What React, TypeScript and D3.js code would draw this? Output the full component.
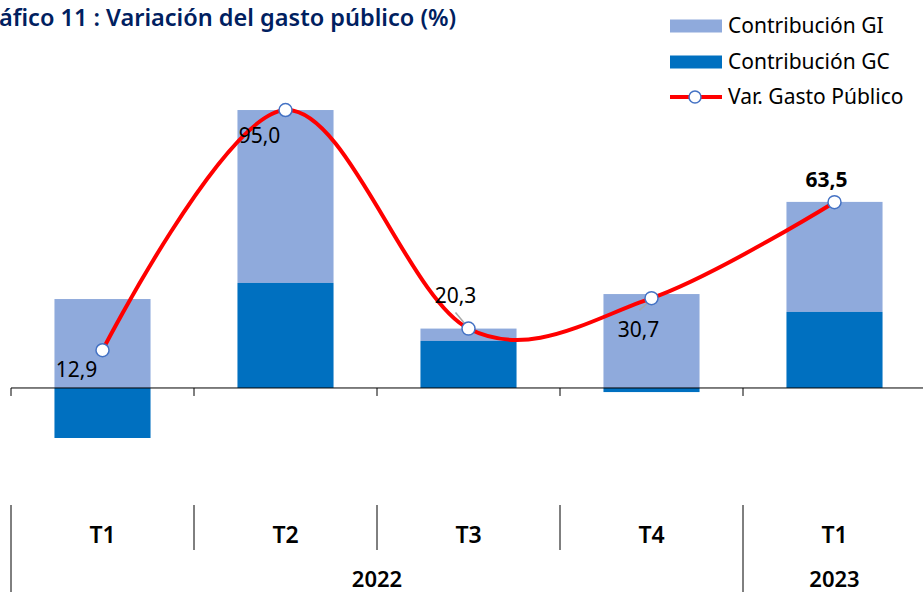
import * as d3 from 'd3';
import { useEffect, useRef } from 'react';

const quarters = ['T1', 'T2', 'T3', 'T4', 'T1'];
const quarterYears = ['2022', '2022', '2022', '2022', '2023'];
const years = ['2022', '2023'];
const contribGC = [-17.1, 35.9, 16.1, -1.4, 26.0];
const contribGI = [30.4, 59.1, 4.2, 32.1, 37.6];
const varGasto = [12.9, 95.0, 20.3, 30.7, 63.5];
const varLabels = ['12,9', '95,0', '20,3', '30,7', '63,5'];

export default function App() {
    const ref = useRef<HTMLDivElement>(null);

    useEffect(() => {
        const width = 923;
        const height = 592;
        const font = 'Noto Sans';
        const giColor = '#8FAADC';
        const gcColor = '#0070C0';
        const lineColor = '#FF0000';
        const markerStroke = '#4472C4';

        const keys = quarters.map((q, i) => quarterYears[i] + '-' + q);

        const svg = d3
            .create('svg')
            .attr('width', width)
            .attr('height', height)
            .style('position', 'absolute')
            .style('left', '0px')
            .style('top', '0px')
            .style('font-family', font);

        const xScale = d3
            .scaleBand<string>()
            .domain(keys)
            .range([11, 926])
            .paddingInner(0.475)
            .paddingOuter(0.2375);

        const yScale = d3.scaleLinear().domain([-40, 100]).range([505, 95.4]);
        const step = xScale.step();
        const cx = (i: number) => (xScale(keys[i]) as number) + xScale.bandwidth() / 2;

        // title (cut at the left edge, as in the source)
        svg
            .append('text')
            .attr('x', -1)
            .attr('y', 26)
            .attr('fill', '#002060')
            .attr('font-size', 23.5)
            .attr('font-weight', 600)
            .text('áfico 11 : Variación del gasto público (%)');

        // bars: GC from zero, GI stacked on positive side
        const bars = svg.append('g');
        keys.forEach((k, i) => {
            const gc = contribGC[i];
            const gi = contribGI[i];
            const gcTop = gc >= 0 ? gc : 0;
            const gcBot = gc >= 0 ? 0 : gc;
            const giBase = gc >= 0 ? gc : 0;
            bars
                .append('rect')
                .attr('x', xScale(k) as number)
                .attr('width', xScale.bandwidth())
                .attr('y', yScale(giBase + gi))
                .attr('height', yScale(giBase) - yScale(giBase + gi))
                .attr('fill', giColor);
            bars
                .append('rect')
                .attr('x', xScale(k) as number)
                .attr('width', xScale.bandwidth())
                .attr('y', yScale(gcTop))
                .attr('height', yScale(gcBot) - yScale(gcTop))
                .attr('fill', gcColor);
        });

        // zero axis with ticks
        const axis = svg.append('g');
        axis
            .append('line')
            .attr('x1', 11)
            .attr('x2', width)
            .attr('y1', yScale(0))
            .attr('y2', yScale(0))
            .attr('stroke', '#000')
            .attr('stroke-width', 1);
        keys.forEach((k) => {
            const x = (xScale(k) as number) - (step - xScale.bandwidth()) / 2;
            axis
                .append('line')
                .attr('x1', x)
                .attr('x2', x)
                .attr('y1', yScale(0))
                .attr('y2', yScale(0) + 8)
                .attr('stroke', '#000');
        });

        // smoothed line
        const pts: [number, number][] = varGasto.map((v, i) => [cx(i), yScale(v)]);
        svg
            .append('path')
            .attr('d', d3.line().curve(d3.curveCardinal.tension(0))(pts))
            .attr('fill', 'none')
            .attr('stroke', lineColor)
            .attr('stroke-width', 4);

        // leader lines for two labels
        const leaders = [
            null,
            null,
            [-13, -16, -3, -4],
            [-12, 12, -3, 4],
            null
        ];
        leaders.forEach((l, i) => {
            if (!l) return;
            svg
                .append('line')
                .attr('x1', pts[i][0] + l[0])
                .attr('y1', pts[i][1] + l[1])
                .attr('x2', pts[i][0] + l[2])
                .attr('y2', pts[i][1] + l[3])
                .attr('stroke', '#A6A6A6')
                .attr('stroke-width', 1.5);
        });

        svg
            .append('g')
            .selectAll('circle')
            .data(pts)
            .join('circle')
            .attr('cx', (d) => d[0])
            .attr('cy', (d) => d[1])
            .attr('r', 6.5)
            .attr('fill', '#fff')
            .attr('stroke', markerStroke)
            .attr('stroke-width', 1.5);

        // data labels (offsets from the point)
        const labelOffsets = [
            [-26, 27],
            [-26, 33],
            [-13, -26],
            [-13, 39],
            [-8, -15]
        ];
        varLabels.forEach((t, i) => {
            svg
                .append('text')
                .attr('x', pts[i][0] + labelOffsets[i][0])
                .attr('y', pts[i][1] + labelOffsets[i][1])
                .attr('text-anchor', 'middle')
                .attr('font-size', 21)
                .attr('font-weight', i === 4 ? 700 : 400)
                .attr('fill', '#000')
                .text(t);
        });

        // category axis at bottom
        const cat = svg.append('g');
        keys.forEach((k, i) => {
            cat
                .append('text')
                .attr('x', cx(i))
                .attr('y', 543)
                .attr('text-anchor', 'middle')
                .attr('font-size', 23)
                .attr('font-weight', 600)
                .text(quarters[i]);
        });
        const sepY = 505;
        keys.forEach((k, i) => {
            const x = (xScale(k) as number) - (step - xScale.bandwidth()) / 2;
            const isYearStart = i === 0 || quarterYears[i] !== quarterYears[i - 1];
            cat
                .append('line')
                .attr('x1', x)
                .attr('x2', x)
                .attr('y1', sepY)
                .attr('y2', isYearStart ? height : 550)
                .attr('stroke', '#000')
                .attr('stroke-width', 1);
        });
        years.forEach((yr) => {
            const idx = keys.map((k, i) => i).filter((i) => quarterYears[i] === yr);
            const x0 = (xScale(keys[idx[0]]) as number) - (step - xScale.bandwidth()) / 2;
            const x1 = x0 + step * idx.length;
            cat
                .append('text')
                .attr('x', (x0 + x1) / 2)
                .attr('y', 587)
                .attr('text-anchor', 'middle')
                .attr('font-size', 22)
                .attr('font-weight', 600)
                .text(yr);
        });

        // legend
        const legend = svg.append('g').attr('transform', 'translate(670,0)');
        const legendItems = [
            { label: 'Contribución GI', color: giColor, y: 26, type: 'rect' },
            { label: 'Contribución GC', color: gcColor, y: 62, type: 'rect' },
            { label: 'Var. Gasto Público', color: lineColor, y: 97, type: 'line' }
        ];
        legendItems.forEach((it) => {
            if (it.type === 'rect') {
                legend
                    .append('rect')
                    .attr('x', 0)
                    .attr('y', it.y - 6.5)
                    .attr('width', 52)
                    .attr('height', 13)
                    .attr('fill', it.color);
            } else {
                legend
                    .append('line')
                    .attr('x1', 0)
                    .attr('x2', 52)
                    .attr('y1', it.y)
                    .attr('y2', it.y)
                    .attr('stroke', it.color)
                    .attr('stroke-width', 4);
                legend
                    .append('circle')
                    .attr('cx', 25)
                    .attr('cy', it.y)
                    .attr('r', 6)
                    .attr('fill', '#fff')
                    .attr('stroke', markerStroke)
                    .attr('stroke-width', 1.5);
            }
            legend
                .append('text')
                .attr('x', 58)
                .attr('y', it.y + 7)
                .attr('font-size', 21)
                .attr('fill', '#000')
                .text(it.label);
        });

        ref.current?.append(svg.node() as SVGSVGElement);
        return () => {
            svg.remove();
        };
    }, []);

    return <div ref={ref}></div>;
}
